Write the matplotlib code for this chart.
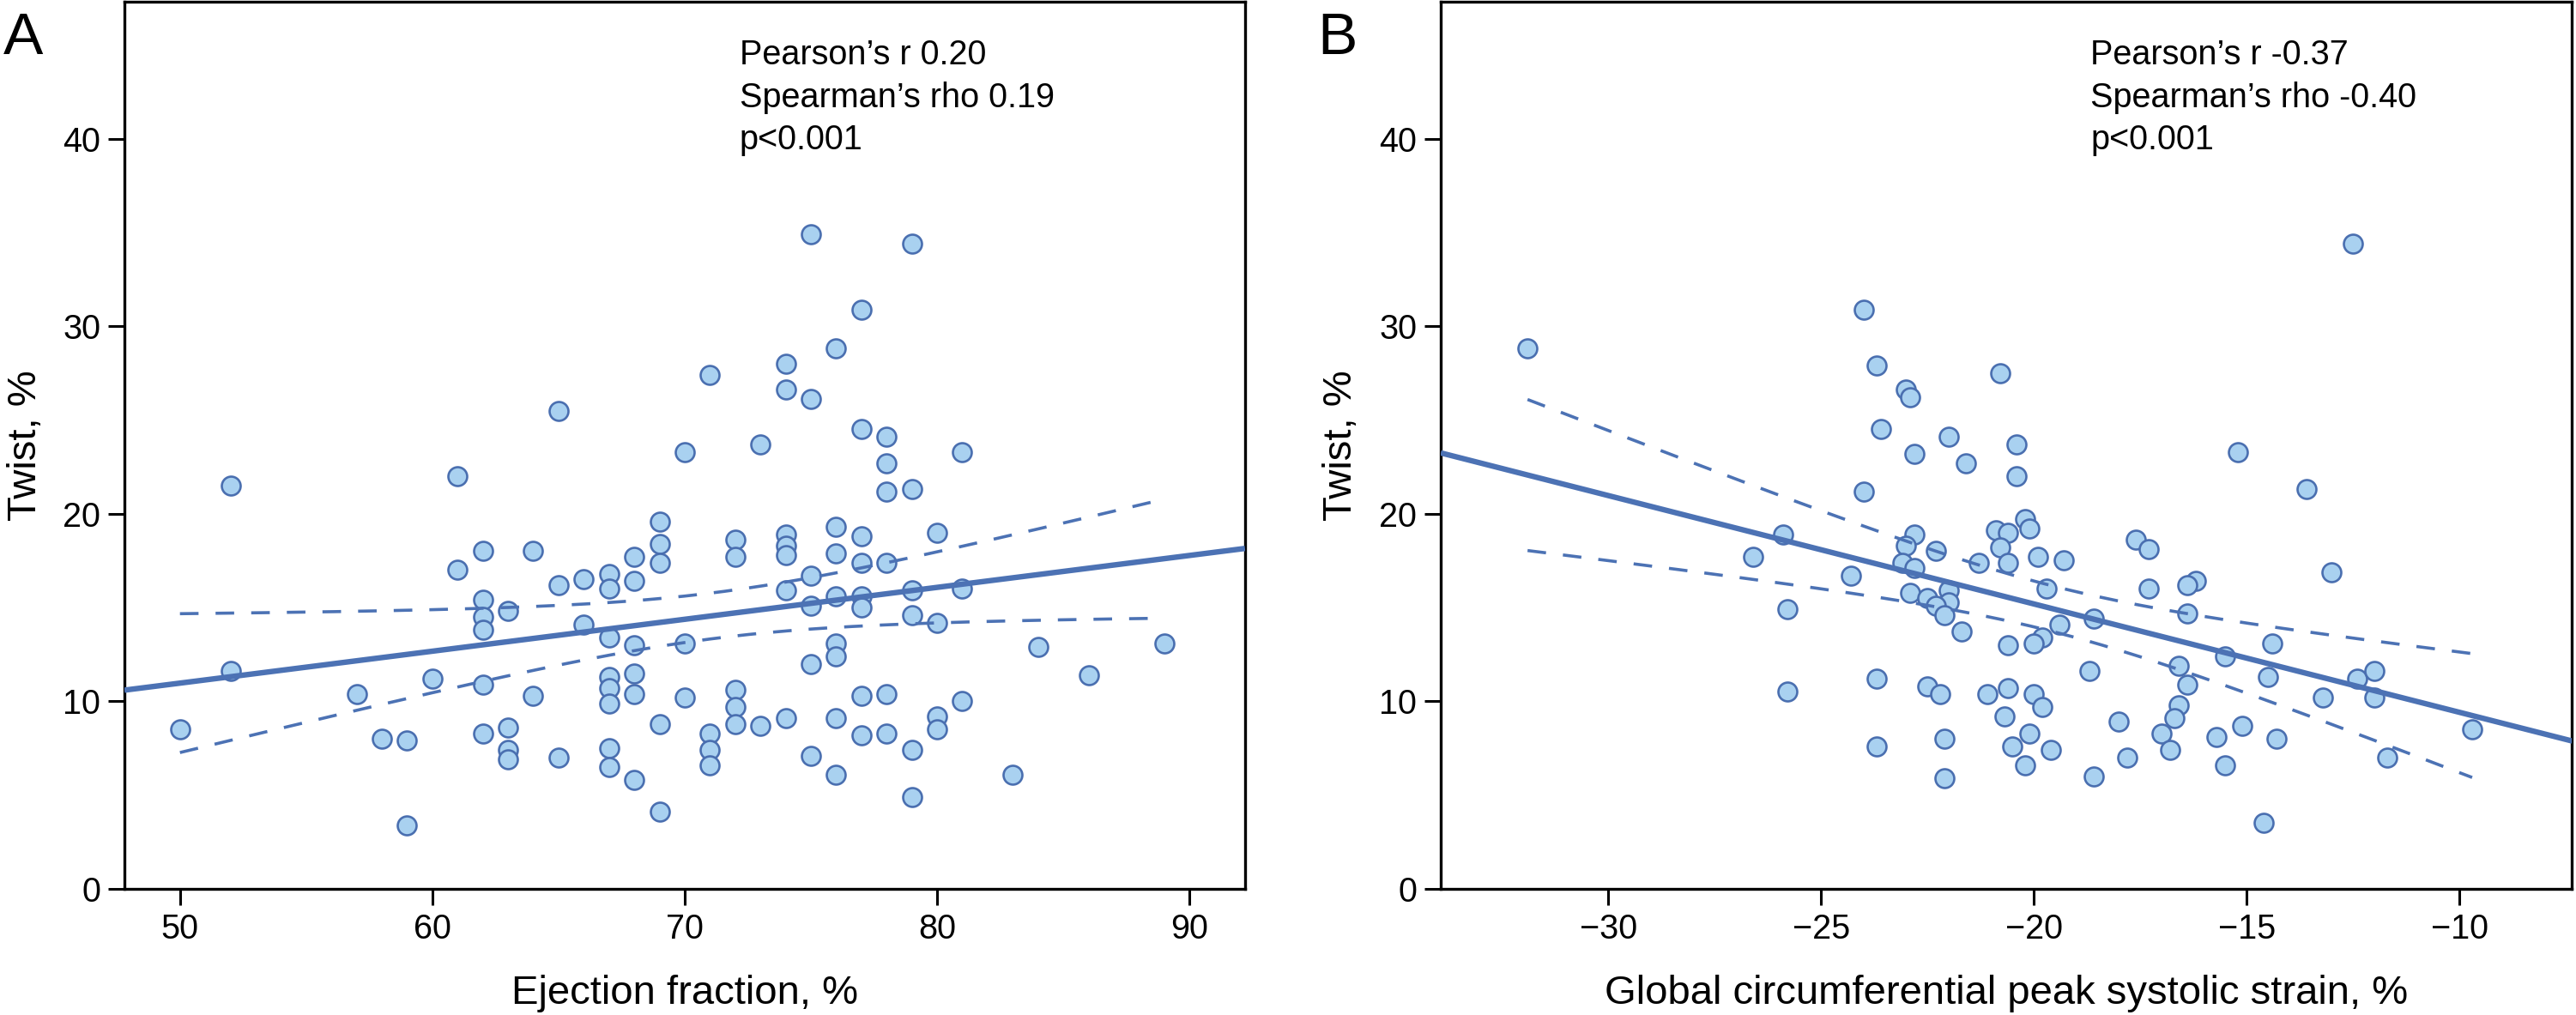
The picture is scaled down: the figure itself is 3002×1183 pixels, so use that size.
import numpy as np
import matplotlib
matplotlib.use('Agg')
import matplotlib.pyplot as plt

plt.rcParams['font.family'] = ['Liberation Sans', 'DejaVu Sans']

# Panel A: ejection fraction (%) vs twist (%)
ef = [52, 61, 70, 69, 69, 69, 68, 68, 67, 67, 66, 65, 64, 62, 61, 62, 62, 62, 63, 66,
      67, 68, 70, 52, 57, 60, 62, 64, 67, 67, 67, 68, 68, 70, 50, 58, 59, 62, 63, 63,
      63, 65, 67, 67, 68, 69, 69, 59, 65,
      75, 79, 77, 76, 74, 71, 74, 75, 73, 77, 78, 78, 81,
      78, 79, 72, 72, 74, 74, 74, 76, 76, 77, 77, 78, 80, 75, 74, 76, 77, 77,
      75, 79, 81, 79, 80, 76, 76, 75, 84, 89, 86, 72, 72, 72, 73, 74, 71, 71,
      71, 76, 77, 78, 81, 80, 80, 77, 78, 79, 75, 76, 83, 79]
twist_a = [21.5, 22.0, 23.3, 19.6, 18.4, 17.4, 17.7, 16.4, 16.8, 16.0, 16.5, 16.2, 18.0, 18.0, 17.0, 15.4, 14.5, 13.8, 14.8, 14.1,
           13.4, 13.0, 13.1, 11.6, 10.4, 11.2, 10.9, 10.3, 11.3, 10.7, 9.9, 11.5, 10.4, 10.2, 8.5, 8.0, 7.9, 8.3, 8.6, 7.4,
           6.9, 7.0, 7.5, 6.5, 5.8, 8.8, 4.1, 3.4, 25.5,
           34.9, 34.4, 30.9, 28.8, 28.0, 27.4, 26.6, 26.1, 23.7, 24.5, 24.1, 22.7, 23.3,
           21.2, 21.3, 18.6, 17.7, 18.9, 18.3, 17.8, 19.3, 17.9, 18.8, 17.4, 17.4, 19.0, 16.7, 15.9, 15.6, 15.6, 15.0,
           15.1, 15.9, 16.0, 14.6, 14.2, 13.1, 12.4, 12.0, 12.9, 13.1, 11.4, 10.6, 9.7, 8.8, 8.7, 9.1, 8.3, 7.4,
           6.6, 9.1, 10.3, 10.4, 10.0, 9.2, 8.5, 8.2, 8.3, 7.4, 7.1, 6.1, 6.1, 4.9]

# Panel B: global circumferential peak systolic strain (%) vs twist (%)
gcs = [-31.9, -24.0, -23.7, -23.0, -22.9, -20.8, -23.6, -22.0, -22.8, -21.6, -20.4, -12.5, -20.4, -15.2, -13.6,
       -20.2, -20.1, -20.9, -20.6, -20.8, -20.6, -21.3, -19.9, -19.3, -17.6, -17.3, -13.0, -19.7, -17.3, -16.2,
       -16.4, -16.4, -18.6, -19.4, -19.8, -20.0, -20.6, -15.5, -14.4, -14.5, -16.6, -18.7, -16.4, -12.4, -12.0,
       -12.0, -13.2, -9.7, -11.7, -14.6, -21.1, -20.6, -20.0, -19.8, -20.7, -20.1, -20.5, -19.6, -20.2, -18.6,
       -18.0, -17.8, -16.6, -16.7, -17.0, -16.8, -15.7, -15.1, -14.3, -15.5,
       -24.0, -25.9, -26.6, -22.8, -23.0, -22.3, -23.1, -22.8, -24.3, -22.0, -22.0, -22.9, -22.5, -22.3, -22.1,
       -21.7, -25.8, -23.7, -25.8, -22.5, -22.2, -23.7, -22.1, -22.1]
twist_b = [28.8, 30.9, 27.9, 26.6, 26.2, 27.5, 24.5, 24.1, 23.2, 22.7, 23.7, 34.4, 22.0, 23.3, 21.3,
           19.7, 19.2, 19.1, 19.0, 18.2, 17.4, 17.4, 17.7, 17.5, 18.6, 18.1, 16.9, 16.0, 16.0, 16.4,
           16.2, 14.7, 14.4, 14.1, 13.4, 13.1, 13.0, 12.4, 13.1, 11.3, 11.9, 11.6, 10.9, 11.2, 11.6,
           10.2, 10.2, 8.5, 7.0, 3.5, 10.4, 10.7, 10.4, 9.7, 9.2, 8.3, 7.6, 7.4, 6.6, 6.0,
           8.9, 7.0, 9.8, 9.1, 8.3, 7.4, 8.1, 8.7, 8.0, 6.6,
           21.2, 18.9, 17.7, 18.9, 18.3, 18.0, 17.4, 17.1, 16.7, 15.9, 15.3, 15.8, 15.5, 15.1, 14.6,
           13.7, 14.9, 11.2, 10.5, 10.8, 10.4, 7.6, 8.0, 5.9]

stats_a = ['Pearson\u2019s r 0.20', 'Spearman\u2019s rho 0.19', 'p<0.001']
stats_b = ['Pearson\u2019s r -0.37', 'Spearman\u2019s rho -0.40', 'p<0.001']

xticks_a = [50, 60, 70, 80, 90]
xticks_b = [-30, -25, -20, -15, -10]
yticks = [0, 10, 20, 30, 40]

face = '#a9d1f0'
edge = '#4a6fb0'
line_col = '#4c72b4'


def panel(ax, x, y, xlim, xticks, xlabel, stats, stats_x):
    x = np.asarray(x, float)
    y = np.asarray(y, float)
    ax.scatter(x, y, s=250, facecolor=face, edgecolor=edge, linewidth=1.9, zorder=2)

    # least squares fit and 95% CI of the mean
    slope, icpt = np.polyfit(x, y, 1)
    n = len(x)
    resid = y - (icpt + slope * x)
    s = np.sqrt(np.sum(resid ** 2) / (n - 2))
    sxx = np.sum((x - x.mean()) ** 2)
    xf = np.array(xlim)
    ax.plot(xf, icpt + slope * xf, color=line_col, lw=4.6, zorder=3, solid_capstyle='butt')
    xs = np.linspace(x.min(), x.max(), 200)
    half = 1.98 * s * np.sqrt(1.0 / n + (xs - x.mean()) ** 2 / sxx)
    fit = icpt + slope * xs
    for yy in (fit + half, fit - half):
        ax.plot(xs, yy, color=line_col, lw=2.6, ls=(0, (6.0, 5.5)), zorder=3)

    ax.set_xlim(xlim)
    ax.set_ylim(0, 47.3)
    ax.set_xticks(xticks)
    ax.set_yticks(yticks)
    ax.tick_params(length=14, width=2.2, labelsize=28.5, pad=6)
    for sp in ax.spines.values():
        sp.set_linewidth(2.4)
    ax.set_xlabel(xlabel, fontsize=34)
    ax.set_ylabel('Twist, %', fontsize=34)
    ax.xaxis.set_label_coords(0.5, -0.097)
    ax.yaxis.set_label_coords(-0.071, 0.5)
    for i, t in enumerate(stats):
        ax.text(stats_x, [0.9294, 0.881, 0.8337][i], t, transform=ax.transAxes,
                fontsize=28.5, ha='left', va='baseline')


fig = plt.figure(figsize=(30.02, 11.83), dpi=100)
ax_a = fig.add_axes([0.0483, 0.1243, 0.435, 0.874])
ax_b = fig.add_axes([0.5593, 0.1243, 0.4392, 0.874])

panel(ax_a, ef, twist_a, (47.8, 92.2), xticks_a, 'Ejection fraction, %', stats_a, 0.549)
panel(ax_b, gcs, twist_b, (-33.94, -7.35), xticks_b,
      'Global circumferential peak systolic strain, %', stats_b, 0.5745)

fig.text(4 / 3002, 1 - 63 / 1183, 'A', fontsize=50, ha='left', va='baseline')
fig.text(1535 / 3002, 1 - 63 / 1183, 'B', fontsize=50, ha='left', va='baseline')

fig.savefig('out.png', dpi=100)
